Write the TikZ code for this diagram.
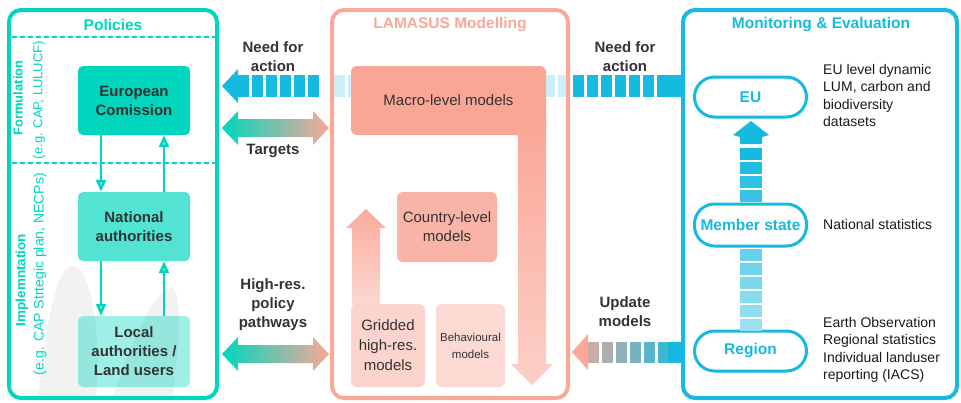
\documentclass[tikz,border=0pt]{standalone}
\usepackage{fontspec}
\setmainfont{Liberation Sans}
\usepackage{tikz}
\usetikzlibrary{arrows.meta,positioning}

\definecolor{PolTeal}{RGB}{0,214,190}
\definecolor{ModSalmon}{RGB}{250,168,152}
\definecolor{MonBlue}{RGB}{22,186,224}
\definecolor{LightBlue}{RGB}{205,240,248}
\definecolor{TxtGrey}{RGB}{51,51,51}

\begin{document}
\begin{tikzpicture}[x=1pt,y=-1pt]
			\tikzstyle{Panel}	= [draw, line width=4pt, rounded corners=12pt, inner sep=0pt, minimum height=388pt]
			\tikzstyle{Title}	= [font=\fontsize{15.5}{19}\selectfont\bfseries]
			\tikzstyle{PolBox}	= [rounded corners=5pt, minimum width=112pt, minimum height=69pt, align=center, text=TxtGrey, font=\fontsize{15}{19}\selectfont\bfseries]
			\tikzstyle{ModBox}	= [rounded corners=6pt, align=center, text=TxtGrey, font=\fontsize{15}{19}\selectfont]
			\tikzstyle{Pill}	= [draw=MonBlue, line width=3pt, rounded corners=20pt, fill=white, minimum width=112pt, minimum height=40pt, text=MonBlue, font=\fontsize{15.5}{19}\selectfont\bfseries]
			\tikzstyle{Label}	= [align=center, text=TxtGrey, font=\fontsize{15}{19}\selectfont\bfseries]
			\tikzstyle{Side}	= [rotate=90, text=PolTeal]
			\tikzstyle{Note}	= [align=left, inner sep=0pt, text=black!90, font=\fontsize{14}{17.5}\selectfont]
			\tikzstyle{Flow}	= [line width=2.5pt, PolTeal, -{Triangle[width=10pt,length=12pt,fill=PolTeal!45]}]
			\tikzstyle{Fat}		= [left color=PolTeal, right color=ModSalmon]

			\useasboundingbox (0,0) rectangle (961,402);

			% pale background hills
			\fill [black!5] (38,400) .. controls (48,310) and (58,262) .. (75,266) .. controls (92,272) and (102,340) .. (96,400) -- cycle;
			\fill [black!5] (112,400) .. controls (135,330) and (158,286) .. (172,288) .. controls (182,292) and (180,340) .. (172,400) -- cycle;

			% need for action, seen through the modelling panel
			\foreach \x in {334,348,...,562}
				\fill [LightBlue] (\x,75) rectangle +(11,22);

			% panels
			\node (pol) at (113,204) [Panel, draw=PolTeal, minimum width=208pt] {};
			\node (lam) at (450,204) [Panel, draw=ModSalmon, minimum width=236pt] {};
			\node (mon) at (820,204) [Panel, draw=MonBlue, minimum width=274pt] {};

			\node (polT) at (113,25) [Title, text=PolTeal] {Policies};
			\node (lamT) at (450,25) [Title, text=ModSalmon] {LAMASUS Modelling};
			\node (monT) at (821,25) [Title, text=MonBlue] {Monitoring \& Evaluation};

			\draw [PolTeal, line width=1.2pt, dash pattern=on 5pt off 3pt] (12,37) -- (215,37);
			\draw [PolTeal, line width=1.2pt, dash pattern=on 5pt off 3pt] (12,163) -- (215,163);

			\node (form) at (18,98) [Side, font=\fontsize{13}{15}\selectfont\bfseries] {Formulation};
			\node (formE) at (39,100) [Side, font=\fontsize{13}{15}\selectfont] {(e.g. CAP, LULUCF)};
			\node (impl) at (22,280) [Side, font=\fontsize{13.5}{15}\selectfont\bfseries] {Implemntation};
			\node (implE) at (40,274) [Side, font=\fontsize{14}{15}\selectfont] {(e.g. CAP Strtegic plan, NECPs)};

			% policy levels
			\node (ec) at (134,100.5) [PolBox, fill=PolTeal] {European\\Comission};
			\node (na) at (134,226.5) [PolBox, fill=PolTeal!68] {National\\authorities};
			\node (la) at (134,351.5) [PolBox, fill=PolTeal, fill opacity=0.38, text opacity=1, minimum height=71pt] {Local\\authorities /\\Land users};

			\draw [Flow] ([xshift=-33pt]ec.south) -- ([xshift=-33pt]na.north);
			\draw [Flow] ([xshift=30pt]na.north) -- ([xshift=30pt]ec.south);
			\draw [Flow] ([xshift=-33pt]na.south) -- ([xshift=-33pt]la.north);
			\draw [Flow] ([xshift=30pt]la.north) -- ([xshift=30pt]na.south);

			% modelling chain
			\shade [top color={rgb,255:red,250;green,166;blue,150}, bottom color={rgb,255:red,252;green,208;blue,200}]
				(518,120) -- (518,364) -- (511,364) -- (532,385) -- (553,364) -- (546,364) -- (546,120) -- cycle;
			\shade [top color={rgb,255:red,250;green,172;blue,157}, bottom color={rgb,255:red,252;green,216;blue,209}]
				(352,305) -- (352,228) -- (346,228) -- (366,209) -- (386,228) -- (380,228) -- (380,305) -- cycle;

			\node (macro) at (448.5,100.5) [ModBox, fill={rgb,255:red,250;green,166;blue,150}, minimum width=195pt, minimum height=69pt] {Macro-level models};
			\node (country) at (447,227) [ModBox, fill={rgb,255:red,249;green,180;blue,167}, minimum width=100pt, minimum height=70pt] {Country-level\\models};
			\node (grid) at (388,345.5) [ModBox, fill={rgb,255:red,252;green,212;blue,205}, minimum width=74pt, minimum height=83pt, font=\fontsize{15}{20}\selectfont] {Gridded\\high-res.\\models};
			\node (behav) at (470.5,345.5) [ModBox, fill={rgb,255:red,252;green,217;blue,211}, minimum width=69pt, minimum height=83pt, font=\fontsize{11.5}{17}\selectfont] {Behavioural\\models};

			% need for action
			\fill [MonBlue] (222,86) -- (238,69) -- (238,103) -- cycle;
			\foreach \x in {238,252,...,318}
				\fill [MonBlue] (\x,75) rectangle +(11,22);
			\foreach \x in {573,587,...,657}
				\fill [MonBlue] (\x,75) rectangle +(11,22);
			\fill [MonBlue] (668,75) rectangle (682,97);
			\node (nfa1) at (273,57) [Label] {Need for\\action};
			\node (nfa2) at (625,57) [Label] {Need for\\action};

			% targets and pathways
			\shade [Fat] (222,128) -- (238,111) -- (238,119) -- (313,119) -- (313,111) -- (329,128) -- (313,145) -- (313,137) -- (238,137) -- (238,145) -- cycle;
			\node (tgt) at (273,151) [Label] {Targets};
			\shade [Fat] (222,354) -- (238,337) -- (238,345) -- (313,345) -- (313,337) -- (329,354) -- (313,371) -- (313,363) -- (238,363) -- (238,371) -- cycle;
			\node (hrp) at (273,305) [Label] {High-res.\\policy\\pathways};

			% update models
			\fill [ModSalmon] (572,352) -- (588,334) -- (588,370) -- cycle;
			\foreach \x [count=\i] in {588,602,...,658} {
				\pgfmathtruncatemacro{\p}{12*\i+10}
				\fill [MonBlue!\p!ModSalmon] (\x,342) rectangle +(11,21);
			}
			\fill [MonBlue] (668,342) rectangle (682,363);
			\node (upd) at (625,312) [Label] {Update\\models};

			% monitoring levels
			\node (eu) at (750.5,97) [Pill] {EU};
			\node (ms) at (750.5,225) [Pill, minimum height=42pt] {Member state};
			\node (reg) at (750.5,351) [Pill] {Region};

			\fill [MonBlue] (751,121) -- (769,135) -- (762,137) -- (762,144) -- (740,144) -- (740,137) -- (733,135) -- cycle;
			\foreach \y in {148,162,176,190,249,263,277,291,305,319} {
				\pgfmathtruncatemacro{\p}{100-(\y-148)*0.33}
				\fill [MonBlue!\p] (740,\y) rectangle +(22,12);
			}

			\node (euN) at (823,64) [Note, anchor=north west] {EU level dynamic\\LUM, carbon and\\biodiversity\\datasets};
			\node (msN) at (823,224) [Note, anchor=west] {National statistics};
			\node (regN) at (823,317) [Note, anchor=north west] {Earth Observation\\Regional statistics\\Individual landuser\\reporting (IACS)};
		\end{tikzpicture}
\end{document}
